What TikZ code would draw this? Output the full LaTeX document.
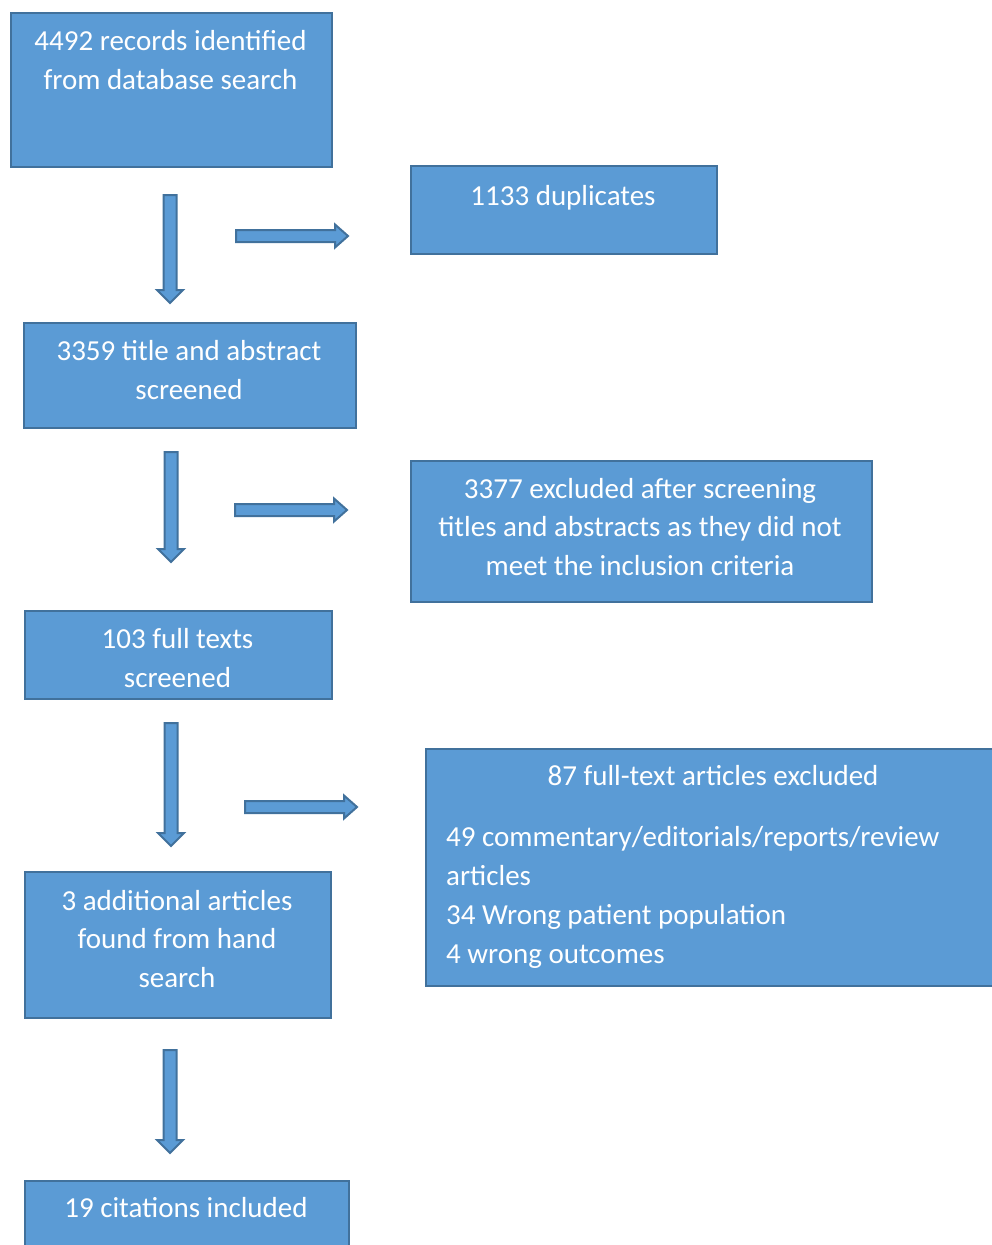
\documentclass[tikz,border=0pt]{standalone}
\usepackage{fontspec}
\setmainfont{Carlito}
\definecolor{boxfill}{HTML}{5B9BD5}
\definecolor{boxline}{HTML}{41719C}
\tikzset{
  box/.style={draw=boxline, fill=boxfill, line width=2pt, inner sep=0pt, anchor=north west},
  txt/.style={text=white, font=\fontsize{29pt}{38.5pt}\selectfont, align=center, inner sep=0pt},
  blk/.style={draw=boxline, fill=boxfill, line width=2pt, line join=miter},
}
\newcommand{\blkdown}[3]{% x, ytop, ybottom
  \draw[blk] (#1-6.5,#2) -- (#1+6.5,#2) -- (#1+6.5,#3-13) -- (#1+13,#3-13) -- (#1,#3)
    -- (#1-13,#3-13) -- (#1-6.5,#3-13) -- cycle;}
\newcommand{\blkright}[3]{% y, xleft, xright
  \draw[blk] (#2,#1-6) -- (#3-13,#1-6) -- (#3-13,#1-11.5) -- (#3,#1) -- (#3-13,#1+11.5)
    -- (#3-13,#1+6) -- (#2,#1+6) -- cycle;}
\begin{document}
\begin{tikzpicture}[x=1pt,y=-1pt]
\useasboundingbox (0,0) rectangle (992,1245);
\clip (0,0) rectangle (992,1245);
% boxes
\node[box, minimum width=321pt, minimum height=154pt] (rec) at (10,12) {};
\node[box, minimum width=306pt, minimum height=88pt] (dup) at (410,165) {};
\node[box, minimum width=332pt, minimum height=105pt] (scr) at (23,322) {};
\node[box, minimum width=461pt, minimum height=141pt] (exc) at (410,460) {};
\node[box, minimum width=307pt, minimum height=88pt] (ful) at (24,610) {};
\node[box, minimum width=576pt, minimum height=237pt] (ftx) at (425,748) {};
\node[box, minimum width=306pt, minimum height=146pt] (add) at (24,871) {};
\node[box, minimum width=324pt, minimum height=90pt] (inc) at (24,1180) {};
% texts
\node[txt] (recT) at (170.5,60) {4492 records identified\\from database search};
\node[txt] (dupT) at (563,198) {1133 duplicates};
\node[txt] (scrT) at (189,370) {3359 title and abstract\\screened};
\node[txt] (excT) at (640,527) {3377 excluded after screening\\titles and abstracts as they did not\\meet the inclusion criteria};
\node[txt] (fulT) at (177.5,658) {103 full texts\\screened};
\node[txt] (ftxT) at (713,776) {87 full-text articles excluded};
\node[txt, font=\fontsize{29pt}{39pt}\selectfont, align=left, anchor=west] (ftxL) at (446,897) {49 commentary/editorials/reports/review\\articles\\34 Wrong patient population\\4 wrong outcomes};
\node[txt] (addT) at (177,939) {3 additional articles\\found from hand\\search};
\node[txt] (incT) at (186,1208) {19 citations included};
% block arrows
\blkdown{170}{195}{303}
\blkright{236}{236}{348}
\blkdown{171}{452}{562}
\blkright{510}{235}{347}
\blkdown{171}{723}{846}
\blkright{807}{245}{357}
\blkdown{170}{1050}{1153}
\end{tikzpicture}
\end{document}
